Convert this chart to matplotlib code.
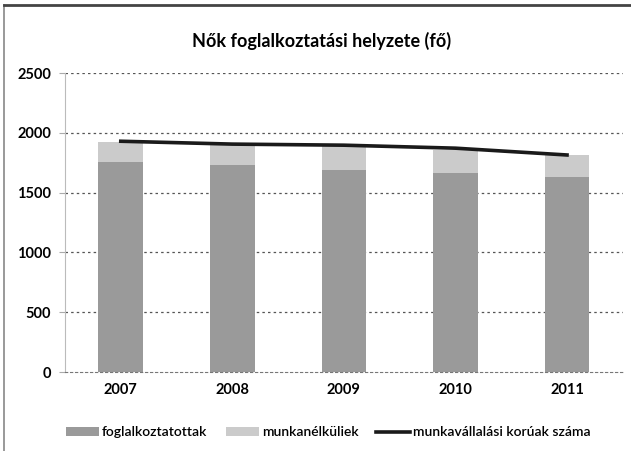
import matplotlib
matplotlib.use("Agg")
import matplotlib.pyplot as plt
from matplotlib.lines import Line2D
import numpy as np

years = ["2007", "2008", "2009", "2010", "2011"]
employed = [1755, 1730, 1690, 1665, 1632]
unemployed = [170, 168, 200, 191, 182]
working_age = [1930, 1906, 1897, 1872, 1815]
yticks = [0, 500, 1000, 1500, 2000, 2500]

plt.rcParams['font.family'] = ['Lato', 'DejaVu Sans']

fig = plt.figure(figsize=(6.31, 4.51), dpi=100)
ax = fig.add_axes([0.103, 0.175, 0.884, 0.663])

x = np.arange(len(years))
b1 = ax.bar(x, employed, width=0.4, color='#9a9a9a', label='foglalkoztatottak', zorder=2)
b2 = ax.bar(x, unemployed, width=0.4, bottom=employed, color='#cbcbcb', label='munkanélküliek', zorder=2)
l1, = ax.plot(x, working_age, color='#1a1a1a', lw=2.6, label='munkavállalási korúak száma', zorder=3)

ax.set_xlim(-0.5, len(years) - 0.5)
ax.set_ylim(0, 2500)
ax.set_yticks(yticks)
ax.set_yticklabels([str(v) for v in yticks], fontsize=10.5, fontweight='bold')
ax.set_xticks(x)
ax.set_xticklabels(years, fontsize=10.5, fontweight='bold')
ax.tick_params(axis='x', length=0, pad=8)
ax.tick_params(axis='y', length=4, color='#aaaaaa', pad=6)

for v in yticks[1:]:
    ax.axhline(v, color='#555555', lw=0.9, ls=(0, (2, 2.5)), zorder=1)

for s in ['top', 'right']:
    ax.spines[s].set_visible(False)
ax.spines['left'].set_color('#bbbbbb')
ax.spines['bottom'].set_color('#777777')
ax.spines['bottom'].set_linestyle((0, (2, 2.5)))

fig.text(0.51, 0.91, 'Nők foglalkoztatási helyzete (fő)', fontsize=13, fontweight='bold',
         ha='center', va='center')

fig.legend(handles=[b1, b2, l1], loc='lower center', bbox_to_anchor=(0.52, 0.0), ncol=3,
           frameon=False, fontsize=10, handlelength=2.4, handletextpad=0.2,
           columnspacing=1.3, handleheight=0.6,
           prop={'weight': 'semibold', 'size': 10})

fig.add_artist(Line2D([0.006, 0.006], [0.0, 0.99], transform=fig.transFigure, color='#888888', lw=1.2))
fig.add_artist(Line2D([0.006, 1.0], [0.99, 0.99], transform=fig.transFigure, color='#444444', lw=2))

fig.savefig('out.png', dpi=100)
